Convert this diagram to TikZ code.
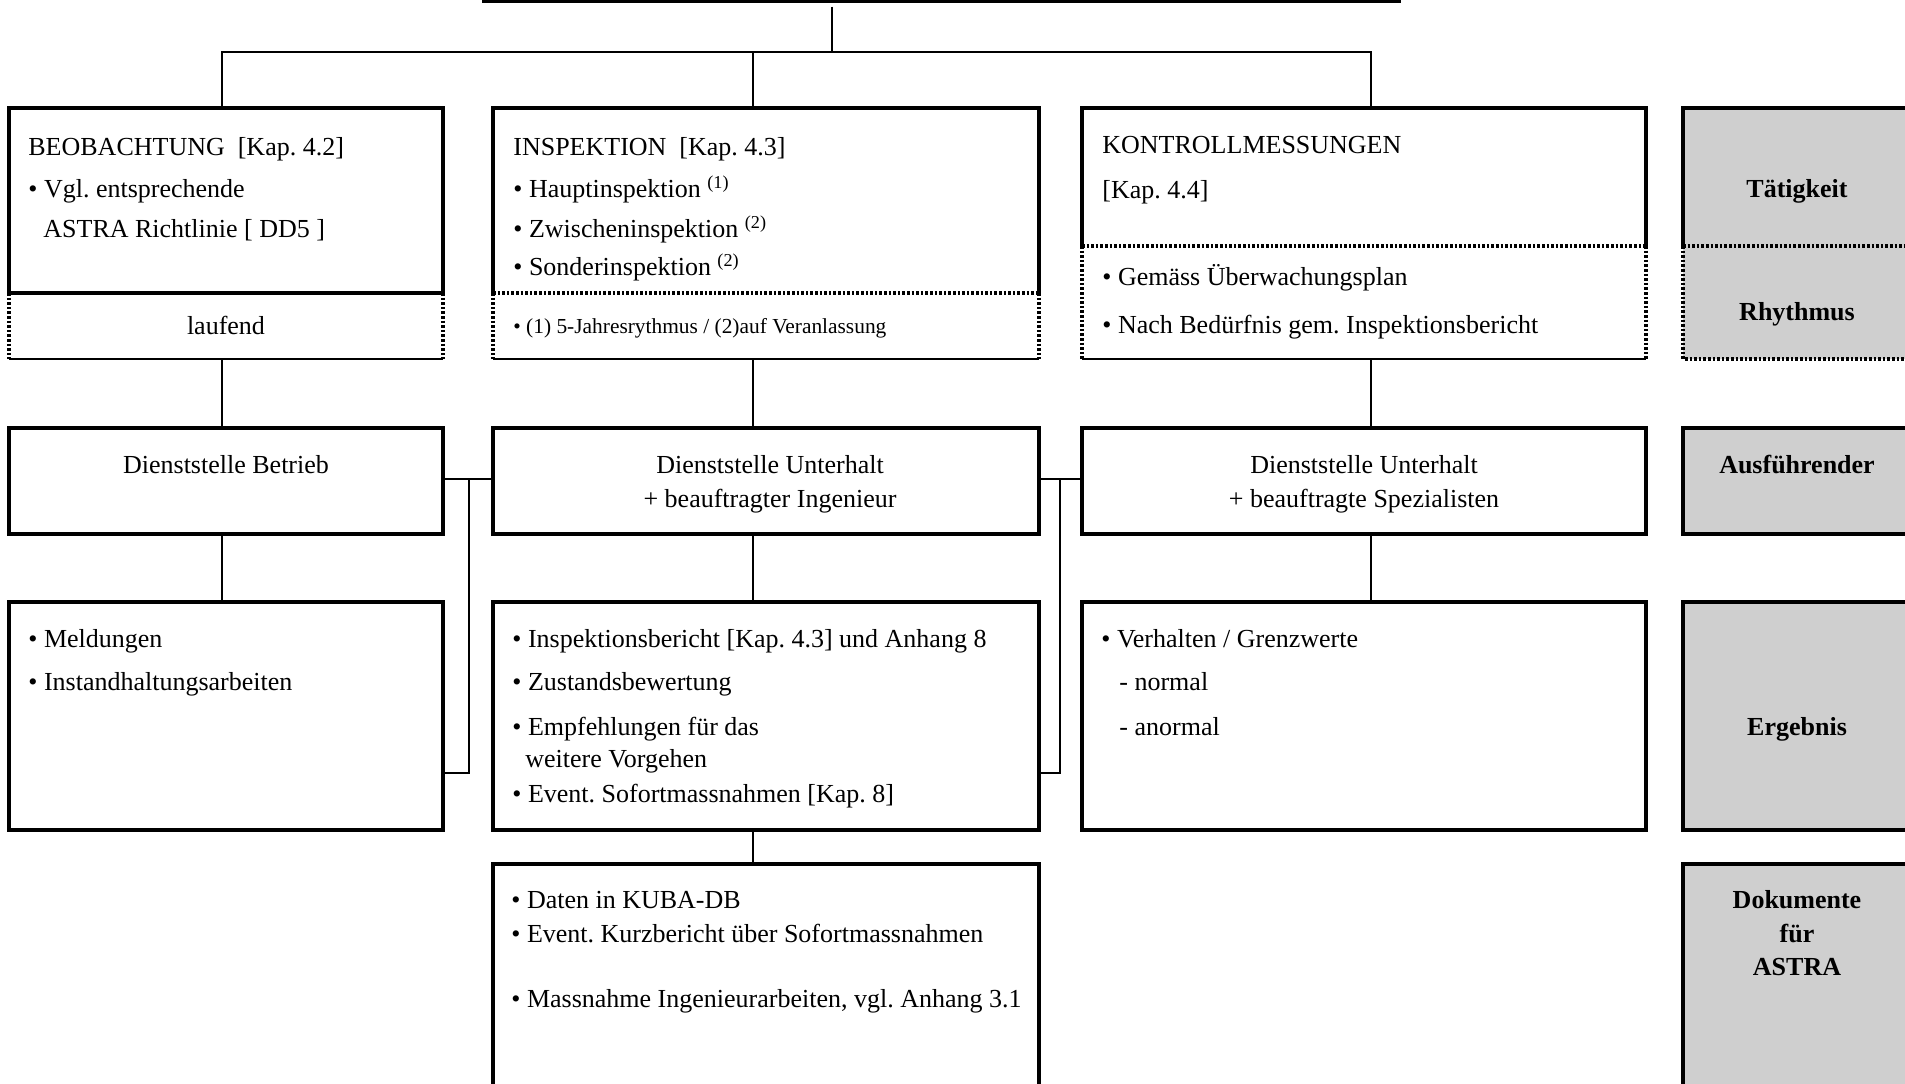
\documentclass[tikz,border=0pt]{standalone}
\usepackage{fontspec}
\setmainfont{Liberation Serif}
\usetikzlibrary{fit}
\frenchspacing
\tikzset{
  conn/.style={line width=0.7pt},
  sline/.style={line width=1.7pt},
  dline/.style={line width=1.7pt, dash pattern=on 1.3pt off 1pt},
  tline/.style={line width=0.75pt},
  area/.style={inner sep=0pt, outer sep=0pt},
  sbox/.style={area, draw, sline},
  gfill/.style={area, fill=black!19},
  txt/.style={anchor=base west, inner sep=0pt, font=\fontsize{13}{16}\selectfont},
  ctxt/.style={anchor=base, inner sep=0pt, font=\fontsize{13}{16}\selectfont},
  smtxt/.style={anchor=base west, inner sep=0pt, font=\fontsize{10.7}{13}\selectfont},
  gtxt/.style={anchor=base, inner sep=0pt, font=\fontsize{13}{16}\selectfont\bfseries},
}
\begin{document}
\begin{tikzpicture}[x=0.5pt, y=-0.5pt]
\useasboundingbox (0,0) rectangle (1905,1083);
\clip (0,0) rectangle (1905,1083);

% ---------- boxes ----------
\node[area, draw, line width=1.2pt, fit={(483,-40) (1400,1.5)}] (top) {};

\node[sbox, fit={(9,108) (443,293)}] (A1) {};
\node[area, fit={(493,108) (1039,293)}] (B1) {};
\node[area, fit={(1082,108) (1646,246)}] (C1) {};
\node[gfill, fit={(1683,108) (1930,246)}] (G1) {};

\node[area, fit={(9,293) (443,359)}] (RA) {};
\node[area, fit={(493,293) (1039,359)}] (RB) {};
\node[area, fit={(1082,246) (1646,359)}] (RC) {};
\node[gfill, fit={(1683,246) (1930,359)}] (GR) {};

\node[sbox, fit={(9,428) (443,534)}] (A2) {};
\node[sbox, fit={(493,428) (1039,534)}] (B2) {};
\node[sbox, fit={(1082,428) (1646,534)}] (C2) {};
\node[sbox, fill=black!19, fit={(1683,428) (1930,534)}] (G2) {};

\node[sbox, fit={(9,602) (443,830)}] (A3) {};
\node[sbox, fit={(493,602) (1039,830)}] (B3) {};
\node[sbox, fit={(1082,602) (1646,830)}] (C3) {};
\node[sbox, fill=black!19, fit={(1683,602) (1930,830)}] (G3) {};

\node[sbox, fit={(493,864) (1039,1130)}] (B4) {};
\node[sbox, fill=black!19, fit={(1683,864) (1930,1130)}] (G4) {};

% borders of the split boxes
\draw[dline] (B1.south west) -- (B1.south east);
\draw[sline] (B1.south west) -- (B1.north west) -- (B1.north east) -- (B1.south east);
\draw[dline] (C1.south west) -- (C1.south east);
\draw[sline] (C1.south west) -- (C1.north west) -- (C1.north east) -- (C1.south east);
\draw[dline] (G1.south west) -- (G1.south east);
\draw[sline] (G1.south west) -- (G1.north west) -- (G1.north east);

\draw[dline] (RA.north west) -- (RA.south west) (RA.north east) -- (RA.south east);
\draw[tline] (RA.south west) -- (RA.south east);
\draw[dline] (RB.north west) -- (RB.south west) (RB.north east) -- (RB.south east);
\draw[tline] (RB.south west) -- (RB.south east);
\draw[dline] (RC.north west) -- (RC.south west) (RC.north east) -- (RC.south east);
\draw[tline] (RC.south west) -- (RC.south east);
\draw[dline] (GR.north west) -- (GR.south west) -- (GR.south east);

% ---------- connectors ----------
\coordinate (busC) at (832,52);
\coordinate (busL) at (222,52);
\coordinate (busM) at (753,52);
\coordinate (busR) at (1371,52);
\draw[conn, shorten <=2.5pt] (top.south -| busC) -- (busC);
\draw[conn] (A1.north -| busL) -- (busL) -- (busR) -- (C1.north -| busR);
\draw[conn] (busM) -- (B1.north -| busM);

\draw[conn] (RA.south -| busL) -- (A2.north -| busL);
\draw[conn] (RB.south -| busM) -- (B2.north -| busM);
\draw[conn] (RC.south -| busR) -- (C2.north -| busR);
\draw[conn] (A2.south -| busL) -- (A3.north -| busL);
\draw[conn] (B2.south -| busM) -- (B3.north -| busM);
\draw[conn] (C2.south -| busR) -- (C3.north -| busR);
\draw[conn] (B3.south -| busM) -- (B4.north -| busM);

\coordinate (jL) at (469,479);
\coordinate (jR) at (1060,479);
\draw[conn] (A2.east |- jL) -- (B2.west |- jL);
\draw[conn] (A3.east |- 0,773) -| (jL);
\draw[conn] (B2.east |- jR) -- (C2.west |- jR);
\draw[conn] (B3.east |- 0,773) -| (jR);

% ---------- texts ----------
\node[txt] (a1t1) at (28,155) {BEOBACHTUNG\ \ [Kap. 4.2]};
\node[txt] (a1t2) at (28,197) {• Vgl. entsprechende};
\node[txt] (a1t3) at (43,237) {ASTRA Richtlinie [ DD5 ]};
\node[ctxt] (ra) at (226,334) {laufend};

\node[txt] (b1t1) at (513,155) {INSPEKTION\ \ [Kap. 4.3]};
\node[txt] (b1t2) at (513,197) {• Hauptinspektion \textsuperscript{(1)}};
\node[txt] (b1t3) at (513,237) {• Zwischeninspektion \textsuperscript{(2)}};
\node[txt] (b1t4) at (513,275) {• Sonderinspektion \textsuperscript{(2)}};
\node[smtxt] (rb) at (513,333) {• (1) 5-Jahresrythmus / (2)auf Veranlassung};

\node[txt] (c1t1) at (1102,153) {KONTROLLMESSUNGEN};
\node[txt] (c1t2) at (1102,198) {[Kap. 4.4]};
\node[txt] (rc1) at (1102,285) {• Gemäss Überwachungsplan};
\node[txt] (rc2) at (1102,333) {• Nach Bedürfnis gem. Inspektionsbericht};

\node[gtxt] (g1t) at (1797,197) {Tätigkeit};
\node[gtxt] (grt) at (1797,320) {Rhythmus};

\node[ctxt] (a2t) at (226,473) {Dienststelle Betrieb};
\node[ctxt] (b2t1) at (770,473) {Dienststelle Unterhalt};
\node[ctxt] (b2t2) at (770,507) {+ beauftragter Ingenieur};
\node[ctxt] (c2t1) at (1364,473) {Dienststelle Unterhalt};
\node[ctxt] (c2t2) at (1364,507) {+ beauftragte Spezialisten};
\node[gtxt] (g2t) at (1797,473) {Ausführender};

\node[txt] (a3t1) at (28,647) {• Meldungen};
\node[txt] (a3t2) at (28,690) {• Instandhaltungsarbeiten};

\node[txt] (b3t1) at (512,647) {• Inspektionsbericht [Kap. 4.3] und Anhang 8};
\node[txt] (b3t2) at (512,690) {• Zustandsbewertung};
\node[txt] (b3t3) at (512,735) {• Empfehlungen für das};
\node[txt] (b3t4) at (525,767) {weitere Vorgehen};
\node[txt] (b3t5) at (512,802) {• Event. Sofortmassnahmen [Kap. 8]};

\node[txt] (c3t1) at (1101,647) {• Verhalten / Grenzwerte};
\node[txt] (c3t2) at (1119,690) {- normal};
\node[txt] (c3t3) at (1119,735) {- anormal};
\node[gtxt] (g3t) at (1797,735) {Ergebnis};

\node[txt] (b4t1) at (511,908) {• Daten in KUBA-DB};
\node[txt] (b4t2) at (511,942) {• Event. Kurzbericht über Sofortmassnahmen};
\node[txt] (b4t3) at (511,1007) {• Massnahme Ingenieurarbeiten, vgl. Anhang 3.1};

\node[gtxt] (g4t1) at (1797,908) {Dokumente};
\node[gtxt] (g4t2) at (1797,942) {für};
\node[gtxt] (g4t3) at (1797,975) {ASTRA};
\end{tikzpicture}
\end{document}
